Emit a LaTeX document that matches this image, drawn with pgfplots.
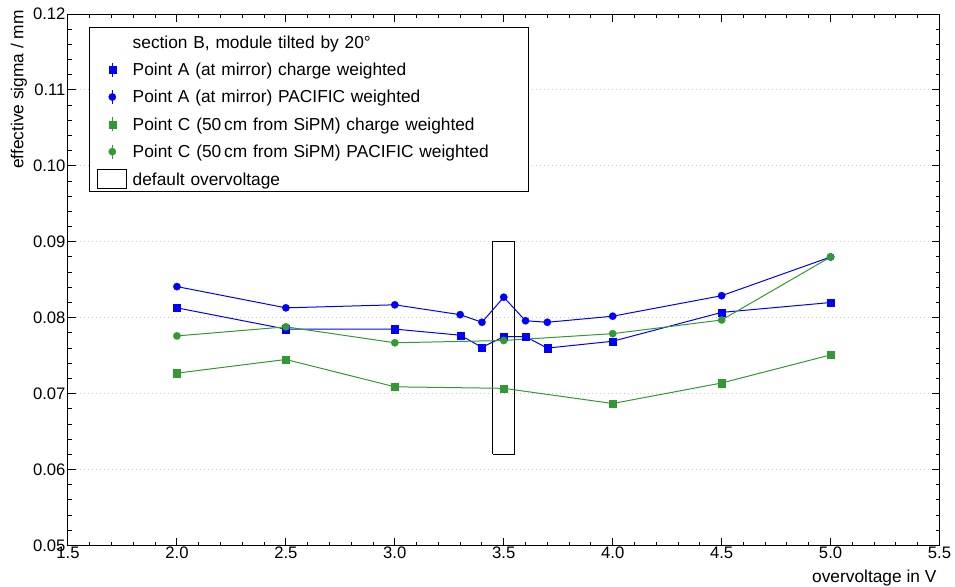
\documentclass[border=0pt]{standalone}
\usepackage{fontspec}
\setmainfont{Liberation Sans}
\usepackage{pgfplots}
\pgfplotsset{compat=1.18}
\definecolor{rblue}{RGB}{0,0,255}
\definecolor{rgreen}{RGB}{51,153,51}
\pgfplotsset{
  errleg/.style={legend image code/.code={
    \path[draw=none,fill=none] (-17.25pt,4.5pt) -- (15.3pt,4.5pt);
    \draw[##1,mark=none,line width=0.75pt] (0pt,-0.75pt) -- (0pt,9.75pt);
    \draw[##1] plot coordinates {(0pt,4.5pt)};
  }},
  boxleg/.style={legend image code/.code={
    \path[draw=none,fill=none] (-17.25pt,4.5pt) -- (15.3pt,4.5pt);
    \draw[##1] (-11pt,-2.5pt) rectangle (11pt,11.5pt);
  }},
  emptyleg/.style={legend image code/.code={
    \path[draw=none,fill=none] (-17.25pt,4.5pt) -- (15.3pt,4.5pt);
  }},
}
\begin{document}
\begin{tikzpicture}
\useasboundingbox (0pt,0pt) rectangle (716.25pt,439.5pt);
\begin{axis}[
  at={(51pt,30.375pt)}, anchor=south west,
  scale only axis, width=653.625pt, height=398.625pt,
  xmin=1.5, xmax=5.5, ymin=0.05, ymax=0.12,
  xtick={1.5,2.0,2.5,3.0,3.5,4.0,4.5,5.0,5.5},
  ytick={0.05,0.06,0.07,0.08,0.09,0.10,0.11,0.12},
  minor x tick num=4, minor y tick num=4,
  tick align=inside,
  major tick length=6pt, minor tick length=2.75pt,
  every tick/.style={black, line width=0.75pt},
  axis line style={black, line width=0.75pt},
  ymajorgrids,
  major grid style={gray!45, line width=0.75pt, dash pattern=on 0.75pt off 2.25pt},
  /pgf/number format/assume math mode=true,
  xticklabel style={/pgf/number format/fixed, /pgf/number format/fixed zerofill, /pgf/number format/precision=1, inner sep=0pt, yshift=-1pt, font=\fontsize{12.5}{14}\selectfont},
  yticklabel style={/pgf/number format/fixed, /pgf/number format/fixed zerofill, /pgf/number format/precision=2, inner sep=0pt, xshift=-1.7pt, font=\fontsize{12.5}{14}\selectfont},
  scaled y ticks=false,
  xlabel={overvoltage in V},
  ylabel={effective sigma / mm},
  xlabel style={at={(axis description cs:0.9968,-0.070)}, anchor=base east, inner sep=0pt, font=\fontsize{13}{15}\selectfont},
  ylabel style={at={(axis description cs:-0.0513,1.0075)}, anchor=base east, inner sep=0pt, font=\fontsize{13}{15}\selectfont},
  legend style={at={(rel axis cs:0.02444,0.97498)}, anchor=north west,
    draw=black, line width=0.75pt, fill=white, inner sep=0pt, outer sep=0pt,
    column sep=0pt, row sep=0pt,
    font=\fontsize{13}{15}\selectfont,
    cells={anchor=base west},
    nodes={inner sep=0pt, text height=15.75pt, text depth=4.76pt, text width=296.5pt, align=left}},
  clip=false,
]
\addlegendimage{emptyleg}
\addlegendentry{section B, module tilted by 20°}

\addplot[boxleg, black, line width=0.75pt, mark=none, forget plot] coordinates {(3.45,0.062) (3.55,0.062) (3.55,0.090) (3.45,0.090) (3.45,0.062)};

\addplot[errleg, rblue, line width=0.75pt, mark=square*, mark size=2.7pt, mark options={solid, fill=rblue, line width=0.1pt}] coordinates {
(2.0,0.0813) (2.5,0.0785) (3.0,0.0785) (3.3,0.0777) (3.4,0.0761) (3.5,0.0775) (3.6,0.0775) (3.7,0.0760) (4.0,0.0769) (4.5,0.0807) (5.0,0.0820)};
\addlegendentry{Point A (at mirror) charge weighted}

\addplot[errleg, rblue, line width=0.75pt, mark=*, mark size=2.8pt, mark options={solid, fill=rblue, line width=0.1pt}] coordinates {
(2.0,0.0841) (2.5,0.0813) (3.0,0.0817) (3.3,0.0804) (3.4,0.0794) (3.5,0.0827) (3.6,0.0796) (3.7,0.0794) (4.0,0.0802) (4.5,0.0829) (5.0,0.0880)};
\addlegendentry{Point A (at mirror) PACIFIC weighted}

\addplot[errleg, rgreen, line width=0.75pt, mark=square*, mark size=2.7pt, mark options={solid, fill=rgreen, line width=0.1pt}] coordinates {
(2.0,0.0727) (2.5,0.0745) (3.0,0.0709) (3.5,0.0707) (4.0,0.0687) (4.5,0.0714) (5.0,0.0751)};
\addlegendentry{Point C (50\,cm from SiPM) charge weighted}

\addplot[errleg, rgreen, line width=0.75pt, mark=*, mark size=2.8pt, mark options={solid, fill=rgreen, line width=0.1pt}] coordinates {
(2.0,0.0776) (2.5,0.0788) (3.0,0.0767) (3.5,0.0770) (4.0,0.0779) (4.5,0.0797) (5.0,0.0880)};
\addlegendentry{Point C (50\,cm from SiPM) PACIFIC weighted}

\addlegendimage{boxleg, black, line width=0.75pt}
\addlegendentry{default overvoltage}
\end{axis}
\end{tikzpicture}
\end{document}
